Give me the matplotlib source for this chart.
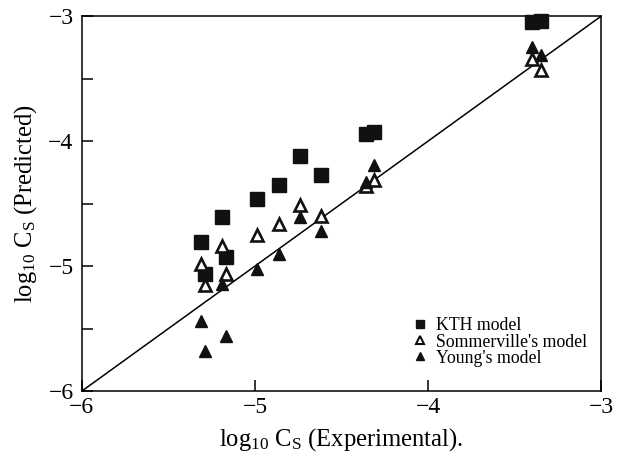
import matplotlib
matplotlib.use("Agg")
import matplotlib.pyplot as plt

plt.rcParams["font.family"] = ["Liberation Serif", "DejaVu Serif"]
plt.rcParams["mathtext.fontset"] = "custom"
plt.rcParams["mathtext.rm"] = "Liberation Serif"
plt.rcParams["mathtext.it"] = "Liberation Serif:italic"

# experimental log10 Cs for the 12 systems
log_cs_exp = [-5.31, -5.29, -5.19, -5.17, -4.99, -4.86, -4.74, -4.62,
              -4.36, -4.31, -3.40, -3.35]
# predicted values per model
kth_pred = [-4.81, -5.06, -4.61, -4.93, -4.46, -4.35, -4.12, -4.27,
            -3.94, -3.93, -3.05, -3.04]
sommerville_pred = [-4.98, -5.15, -4.84, -5.06, -4.75, -4.66, -4.51, -4.60,
                    -4.36, -4.31, -3.34, -3.43]
young_pred = [-5.44, -5.68, -5.14, -5.56, -5.02, -4.90, -4.61, -4.72,
              -4.33, -4.19, -3.25, -3.31]

fig = plt.figure(figsize=(6.25, 4.59), dpi=100)
ax = fig.add_axes([0.131, 0.148, 0.831, 0.817])

ax.plot([-6, -3], [-6, -3], color="black", linewidth=1.1, zorder=1)

ax.plot(log_cs_exp, kth_pred, linestyle="", marker="s", markersize=10,
        color="#111111", clip_on=False, zorder=3)
ax.plot(log_cs_exp, sommerville_pred, linestyle="", marker="^", markersize=8.5,
        markerfacecolor="white", markeredgecolor="#111111",
        markeredgewidth=1.9, clip_on=False, zorder=4)
ax.plot(log_cs_exp, young_pred, linestyle="", marker="^", markersize=9,
        color="#111111", clip_on=False, zorder=5)

ax.set_xlim(-6, -3)
ax.set_ylim(-6, -3)
ax.set_xticks([-6, -5, -4, -3])
ax.set_xticklabels(["\u22126", "\u22125", "\u22124", "\u22123"])
ax.set_yticks([-6, -5, -4, -3])
ax.set_yticklabels(["\u22126", "\u22125", "\u22124", "\u22123"])
ax.set_yticks([-5.5, -4.5, -3.5], minor=True)
ax.tick_params(axis="both", which="both", direction="in", length=8,
               width=1.1, labelsize=17)
ax.tick_params(axis="y", pad=6)
ax.tick_params(axis="x", pad=4)
for side in ax.spines.values():
    side.set_linewidth(1.1)

ax.set_xlabel(r"log$_{10}$ C$_{\mathrm{S}}$ (Experimental).", fontsize=17.7,
              labelpad=6)
ax.set_ylabel(r"log$_{10}$ C$_{\mathrm{S}}$ (Predicted)", fontsize=17.7,
              labelpad=7)

handles = [
    plt.Line2D([], [], linestyle="", marker="s", markersize=6, color="#111111"),
    plt.Line2D([], [], linestyle="", marker="^", markersize=5.5,
               markerfacecolor="white", markeredgecolor="#111111",
               markeredgewidth=1.5),
    plt.Line2D([], [], linestyle="", marker="^", markersize=6, color="#111111"),
]
labels = ["KTH model", "Sommerville's model", "Young's model"]
ax.legend(handles, labels, loc="lower right", bbox_to_anchor=(0.972, 0.065),
          frameon=False, fontsize=12.8, handlelength=0.8, handletextpad=0.5,
          labelspacing=-0.05, borderpad=0, borderaxespad=0)

fig.savefig("out.png", dpi=100)
